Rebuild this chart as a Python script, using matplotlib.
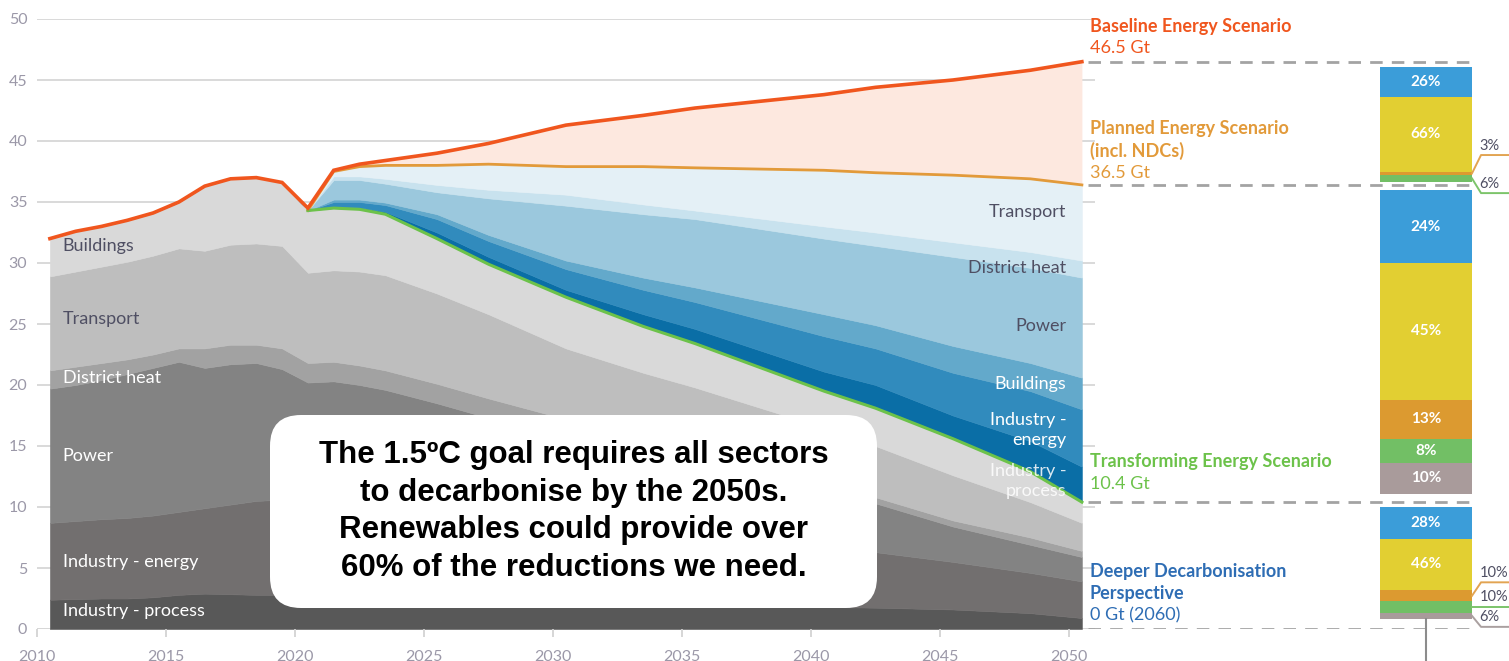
import numpy as np
import matplotlib
matplotlib.use('Agg')
import matplotlib.pyplot as plt
from matplotlib.patches import FancyBboxPatch

# data (Gt CO2 per year)
years = np.array([2010, 2011, 2012, 2013, 2014, 2015, 2016, 2017, 2018, 2019, 2020,
                  2021, 2022, 2023, 2025, 2027, 2030, 2033, 2035, 2040, 2042, 2045,
                  2048, 2050])

# remaining emissions in the Transforming Energy Scenario (grey stack)
ind_process = [2.4, 2.45, 2.5, 2.5, 2.6, 2.8, 2.9, 2.85, 2.8, 2.8, 2.8,
               2.8, 2.75, 2.7, 2.6, 2.5, 2.3, 2.15, 2.05, 1.8, 1.75, 1.6, 1.3, 0.9]
ind_energy = [6.3, 6.4, 6.5, 6.6, 6.7, 6.8, 7.0, 7.35, 7.7, 7.8, 7.5,
              7.6, 7.55, 7.4, 7.0, 6.6, 6.0, 5.55, 5.25, 4.8, 4.55, 3.9, 3.3, 3.0]
power = [11.0, 11.15, 11.4, 11.8, 12.1, 12.3, 11.5, 11.5, 11.3, 10.7, 9.9,
         9.9, 9.7, 9.5, 8.9, 8.2, 7.3, 6.7, 6.3, 4.9, 4.0, 2.9, 2.3, 2.0]
district_heat = [1.5, 1.5, 1.4, 1.2, 1.1, 1.1, 1.6, 1.6, 1.5, 1.7, 1.6,
                 1.6, 1.6, 1.6, 1.6, 1.6, 1.6, 1.4, 1.3, 0.8, 0.5, 0.5, 0.6, 0.5]
transport = [7.7, 7.8, 7.9, 8.0, 8.1, 8.2, 8.0, 8.2, 8.3, 8.4, 7.4,
             7.5, 7.7, 7.8, 7.4, 6.9, 5.8, 5.2, 4.9, 4.2, 4.2, 3.7, 2.9, 2.3]
buildings = [3.1, 3.3, 3.3, 3.4, 3.5, 3.8, 5.3, 5.4, 5.4, 5.2, 5.1,
             5.1, 5.1, 5.0, 4.5, 4.1, 4.2, 3.8, 3.6, 3.0, 3.1, 3.0, 2.5, 1.7]

# reductions vs the Planned Energy Scenario (blue stack)
red_ind_process = [0] * 11 + [0.1, 0.15, 0.2, 0.5, 0.6, 0.6, 1.0, 1.2, 1.6, 1.9, 1.9, 2.5, 2.9]
red_ind_energy = [0] * 11 + [0.4, 0.45, 0.55, 1.1, 1.3, 1.7, 2.0, 2.2, 2.9, 3.0, 3.5, 4.1, 4.7]
red_buildings = [0] * 11 + [0.2, 0.2, 0.2, 0.4, 0.5, 0.7, 1.0, 1.2, 1.8, 1.9, 2.2, 2.3, 2.6]
red_power = [0] * 11 + [1.6, 1.6, 1.55, 1.8, 3.0, 4.5, 5.2, 5.6, 6.2, 6.5, 7.3, 7.8, 8.2]
red_district_heat = [0] * 11 + [0.3, 0.3, 0.4, 0.6, 0.7, 0.9, 0.8, 0.7, 1.0, 1.1, 1.2, 1.3, 1.4]
red_transport = [0] * 11 + [0.4, 0.8, 1.1, 1.6, 2.1, 2.3, 3.1, 3.5, 4.6, 4.9, 5.5, 6.0, 6.2]

baseline = [32.0, 32.6, 33.0, 33.5, 34.1, 35.0, 36.3, 36.9, 37.0, 36.6, 34.5,
            37.6, 38.1, 38.4, 39.0, 39.8, 41.3, 42.1, 42.7, 43.8, 44.4, 45.0, 45.8, 46.5]

sector_labels = ['Industry - process', 'Industry - energy', 'Power',
                 'District heat', 'Transport', 'Buildings']

# breakdown of the reductions between scenarios (top to bottom), %
bar_pcts = [[26, 66, 3, 6],
            [24, 45, 13, 8, 10],
            [28, 46, 10, 10, 6]]

# ---------------------------------------------------------------------------
PX_YR = 25.8      # pixels per year
PX_GT = 12.2      # pixels per Gt
W, H = 1509, 661

grey_cols = ['#585858', '#726f6f', '#838383', '#a2a2a2', '#bebebe', '#d9d9d9']
blue_cols = ['#0a6ea6', '#318bbd', '#63a9cb', '#9bc8dd', '#c8e2ee', '#e4f0f6']
c_base = '#f0561e'
c_plan = '#e29a3a'
c_trans = '#6cc24a'
c_deep = '#2e6db4'
c_tick = '#9b98a8'
c_dark = '#4f4f63'
bar_cols = ['#3b9dd9', '#e2cf32', '#dc9a30', '#72bf65', '#a99b9b']

fig = plt.figure(figsize=(W / 100, H / 100), dpi=100)
ax = fig.add_axes([37 / W, 1 - 629 / H, (W - 37) / W, 610 / H])
ax.set_xlim(2010, 2010 + (W - 37) / PX_YR)
ax.set_ylim(0, 50)
for s in ax.spines.values():
    s.set_visible(False)

x = years + 0.5   # values are plotted mid-year
grey = [ind_process, ind_energy, power, district_heat, transport, buildings]
blue = [red_ind_process, red_ind_energy, red_buildings, red_power,
        red_district_heat, red_transport]
transforming = np.sum(grey, axis=0)
planned = transforming + np.sum(blue, axis=0)
baseline = np.array(baseline)
x_end = x[-1]

# grid and axis
ax.hlines(np.arange(5, 51, 5), 2010, x_end + 0.5, color='#d3d3d3', lw=1.2, zorder=0)
ax.hlines(0, 2010, x_end + 0.5, color='#cfcfcf', lw=1.2, zorder=0)
ax.set_xticks(range(2010, 2051, 5))
ax.set_yticks(range(0, 51, 5))
ax.tick_params(axis='x', length=6, width=1.2, color='#cfcfcf', pad=9,
               labelsize=11.5, labelcolor=c_tick)
ax.tick_params(axis='y', length=0, pad=7, labelsize=11.5, labelcolor=c_tick)
for lab in ax.get_xticklabels() + ax.get_yticklabels():
    lab.set_family('Lato')

# stacked areas
ax.stackplot(x, *grey, *blue, colors=grey_cols + blue_cols,
             lw=0.4, edgecolor='face', zorder=1)
m = years >= 2020
ax.fill_between(x[m], planned[m], baseline[m], color='#fde8df', lw=0, zorder=1)

ax.plot(x[m], planned[m], color=c_plan, lw=2.0, zorder=3)
ax.plot(x[m], transforming[m], color=c_trans, lw=2.2, zorder=3)
ax.plot(x, baseline, color=c_base, lw=2.6, zorder=4, solid_joinstyle='miter')

# sector labels on the left
left_x = 2011.0
left_pos = [1.5, 5.5, 14.2, 20.6, 25.4, 31.4]
left_col = ['white', 'white', 'white', 'white', c_dark, c_dark]
for lab, yy, cc in zip(sector_labels, left_pos, left_col):
    ax.text(left_x, yy, lab, color=cc, fontsize=13, family='Lato',
            va='center', ha='left', zorder=5)

# sector labels on the right
right_x = 2049.9
right_labels = ['Transport', 'District heat', 'Power', 'Buildings',
                'Industry -\nenergy', 'Industry -\nprocess']
right_pos = [34.2, 29.6, 24.8, 20.1, 16.3, 12.1]
right_col = [c_dark, c_dark, c_dark, 'white', 'white', 'white']
for lab, yy, cc in zip(right_labels, right_pos, right_col):
    ax.text(right_x, yy, lab, color=cc, fontsize=13, family='Lato',
            va='center', ha='right', linespacing=1.3, zorder=5,
            alpha=0.85 if 'process' in lab else 1)

# scenario labels, one line every 22 px
lx = 2050.8
step = 22 / PX_GT
scen = [
    (['Baseline Energy Scenario'], '46.5 Gt', 49.4, c_base),
    (['Planned Energy Scenario', '(incl. NDCs)'], '36.5 Gt', 41.0, c_plan),
    (['Transforming Energy Scenario'], '10.4 Gt', 13.7, c_trans),
    (['Deeper Decarbonisation', 'Perspective'], '0 Gt (2060)', 4.75, c_deep),
]
for lines, val, ytop, cc in scen:
    for k, ln in enumerate(lines):
        ax.text(lx, ytop - k * step, ln, color=cc, fontsize=13, family='Lato',
                fontweight='bold', va='center', ha='left', zorder=5)
    ax.text(lx, ytop - len(lines) * step, val, color=cc, fontsize=13,
            family='Lato', va='center', ha='left', zorder=5)

# dashed scenario levels
levels = [baseline[-1], planned[-1], transforming[-1], 0]
bar_l = 2010 + (1380 - 37) / PX_YR
bar_r = 2010 + (1472 - 37) / PX_YR
ax.hlines(levels, x_end + 0.25, bar_r, colors='#a3a3a3', lw=2,
          linestyles=(0, (4.5, 3.3)), zorder=2)

# reduction breakdown bars
pad_top = 0.43
pad_bot = [0.25, 0.7, 0.8]
outside = {0: {2: 1.5, 3: -1.2}, 2: {2: 1.1, 3: 0.0, 4: -0.9}}
conn_cols = {2: '#e2a452', 3: '#7cc46a', 4: '#aaa0a0'}
for i, pcts in enumerate(bar_pcts):
    top = levels[i] - pad_top
    bot = levels[i + 1] + pad_bot[i]
    span = top - bot
    cur = top
    for j, p in enumerate(pcts):
        h = span * p / sum(pcts)
        ax.bar(bar_l, h, bottom=cur - h, width=bar_r - bar_l, align='edge',
               color=bar_cols[j], lw=0, zorder=3)
        mid = cur - h / 2
        if i in outside and j in outside[i]:
            ly = mid + outside[i][j]
            ax.plot([bar_r, bar_r + 0.35, bar_r + 5], [mid, ly, ly],
                    color=conn_cols[j], lw=1.4, zorder=3, clip_on=False)
            ax.text(bar_r + 0.3, ly + 0.2, f'{p}%', color=c_dark, fontsize=10.5,
                    family='Lato', va='bottom', ha='left', zorder=5)
        else:
            ax.text((bar_l + bar_r) / 2, mid, f'{p}%', color='white',
                    fontsize=11, family='Lato', fontweight='bold',
                    va='center', ha='center', zorder=5)
        cur -= h
    if i == 2:
        cx = (bar_l + bar_r) / 2
        ax.plot([cx, cx], [bot, -5], color='#8c8c8c', lw=1.5, clip_on=False,
                zorder=3)

# message box
bx0, bx1 = 2010 + (270 - 37) / PX_YR, 2010 + (877 - 37) / PX_YR
by0, by1 = (629 - 608) / PX_GT, (629 - 415) / PX_GT
box = FancyBboxPatch((bx0, by0), bx1 - bx0, by1 - by0,
                     boxstyle='round,pad=0,rounding_size=1.2',
                     mutation_aspect=PX_YR / PX_GT,
                     facecolor='white', edgecolor='none', zorder=6)
ax.add_patch(box)
ax.text((bx0 + bx1) / 2, (by0 + by1) / 2,
        'The 1.5ºC goal requires all sectors\nto decarbonise by the 2050s.\n'
        'Renewables could provide over\n60% of the reductions we need.',
        ha='center', va='center', fontsize=22.5, fontweight='bold',
        family='Liberation Sans', color='black', linespacing=1.33, zorder=7)

fig.savefig('out.png', dpi=100)
